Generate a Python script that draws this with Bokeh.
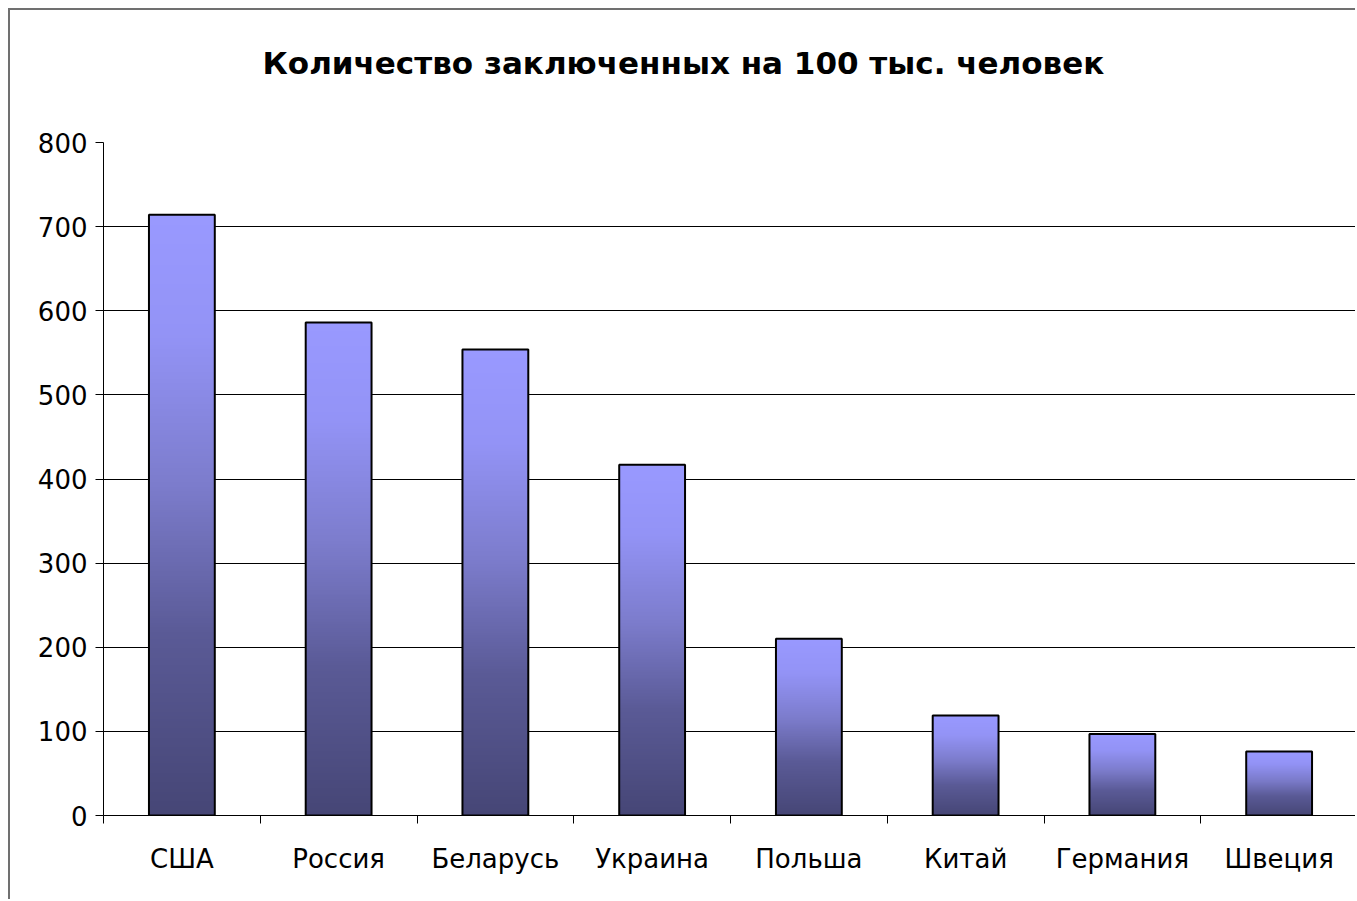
import numpy as np
from bokeh.plotting import figure
from bokeh.models import (ColumnDataSource, FixedTicker, Range1d, LinearColorMapper, Title)
from bokeh.embed import file_html
from bokeh.resources import INLINE

# ---- data ----
countries = ["США", "Россия", "Беларусь", "Украина", "Польша", "Китай", "Германия", "Швеция"]
prisoners = [714, 586, 554, 417, 210, 119, 97, 76]
y_ticks = [0, 100, 200, 300, 400, 500, 600, 700, 800]
title_text = "Количество заключенных на 100 тыс. человек"

# ---- styling ----
bar_w = 0.42
font = "DejaVu Sans"

def hex_to_rgb(h):
    h = h.lstrip("#")
    return np.array([int(h[i:i + 2], 16) for i in (0, 2, 4)], dtype=float)

# gradient stops (t=0 bottom, t=1 top)
stops_t = [0.0, 0.3, 0.55, 0.8, 1.0]
stops_c = [hex_to_rgb(c) for c in ["#464676", "#5A5A96", "#7C7CCC", "#9393F6", "#9999FF"]]
palette = []
for t in np.linspace(0, 1, 256):
    rgb = [np.interp(t, stops_t, [c[k] for c in stops_c]) for k in range(3)]
    palette.append("#%02x%02x%02x" % tuple(int(round(v)) for v in rgb))
mapper = LinearColorMapper(palette=palette, low=0, high=1)
grad = np.linspace(0, 1, 256).reshape(256, 1)

n = len(countries)
centers = [i + 0.5 for i in range(n)]

p = figure(width=1347, height=891, x_range=Range1d(0, n), y_range=Range1d(0, 800),
           output_backend="svg", toolbar_location=None,
           min_border_left=93, min_border_top=132, min_border_bottom=86, min_border_right=0)
p.styles = {"border-left": "2px solid #707070", "border-top": "2px solid #707070",
            "margin-left": "8px", "margin-top": "8px"}
p.outline_line_color = None
p.background_fill_color = "white"
p.border_fill_color = "white"

img_src = ColumnDataSource(dict(
    image=[grad] * n,
    x=[c - bar_w / 2 for c in centers],
    y=[0] * n,
    dw=[bar_w] * n,
    dh=prisoners,
))
p.image(image="image", x="x", y="y", dw="dw", dh="dh", color_mapper=mapper, source=img_src)

bar_src = ColumnDataSource(dict(x=centers, top=prisoners))
p.vbar(x="x", top="top", width=bar_w, bottom=0, source=bar_src,
       fill_alpha=0, line_color="black", line_width=2)

# grid
p.xgrid.grid_line_color = None
p.ygrid.grid_line_color = "black"
p.ygrid.grid_line_width = 1
p.ygrid.ticker = FixedTicker(ticks=y_ticks)

# y axis
p.yaxis.ticker = FixedTicker(ticks=y_ticks)
p.yaxis.axis_line_color = "black"
p.yaxis.major_tick_out = 8
p.yaxis.major_tick_in = 0
p.yaxis.minor_tick_line_color = None
p.yaxis.major_label_text_font = font
p.yaxis.major_label_text_font_size = "26px"
p.yaxis.major_label_text_color = "black"
p.yaxis.major_label_standoff = 8

# x axis: labels at category centres, tick marks between categories
p.xaxis.ticker = FixedTicker(ticks=centers, minor_ticks=list(range(0, n + 1)))
p.xaxis.major_label_overrides = {c: name for c, name in zip(centers, countries)}
p.xaxis.major_tick_line_color = None
p.xaxis.major_tick_out = 0
p.xaxis.major_tick_in = 0
p.xaxis.minor_tick_line_color = "black"
p.xaxis.minor_tick_out = 8
p.xaxis.minor_tick_in = 0
p.xaxis.axis_line_color = "black"
p.xaxis.major_label_text_font = font
p.xaxis.major_label_text_font_size = "26px"
p.xaxis.major_label_text_color = "black"
p.xaxis.major_label_standoff = 20

# title: an empty second line lifts it higher above the plot frame
title = Title(text=title_text + "\n ", align="left", offset=159, standoff=52,
              text_font=font, text_font_style="bold", text_font_size="31px",
              text_color="black")
p.add_layout(title, "above")

open("out.html", "w").write(file_html(p, INLINE))
